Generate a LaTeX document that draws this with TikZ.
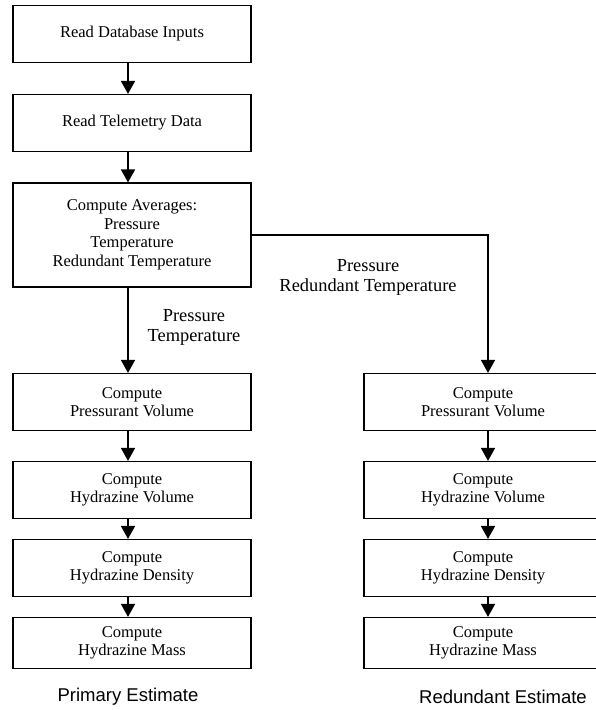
\documentclass[tikz,border=0pt]{standalone}
\usepackage{fontspec}
\setmainfont{Liberation Serif}
\newfontfamily\capfont{Liberation Sans}
\usetikzlibrary{arrows.meta}

\begin{document}
\begin{tikzpicture}[x=1pt, y=-1pt,
  box/.style={draw, line width=1.2pt, minimum width=238pt, align=center,
    font=\fontsize{16.5}{18.5}\selectfont},
  arr/.style={line width=1.7pt, -{Triangle[width=14pt, length=13pt]}},
  lbl/.style={align=center, font=\fontsize{18.4}{20}\selectfont},
  esttext/.style={font=\capfont\fontsize{18.5}{20}\selectfont}]

\useasboundingbox (0,0) rectangle (596,710);

\node[box, minimum height=57pt] (rdb) at (132,34) {Read Database Inputs};
\node[box, minimum height=57pt] (rtm) at (132,123) {Read Telemetry Data};
\node[box, minimum height=104pt] (avg) at (132,235)
  {Compute Averages:\\Pressure\\Temperature\\Redundant Temperature};

\foreach \col/\x in {p/132, r/483}
  \foreach \n/\y/\h/\txt in {1/402/57/Pressurant Volume, 2/490/57/Hydrazine Volume,
                             3/568/57/Hydrazine Density, 4/643/51/Hydrazine Mass}
    \node[box, minimum height=\h pt] (\col\n) at (\x,\y) {Compute\\\txt};

\draw[arr] ([xshift=-4pt]rdb.south) -- ([xshift=-4pt]rtm.north);
\draw[arr] ([xshift=-4pt]rtm.south) -- ([xshift=-4pt]avg.north);
\draw[arr] ([xshift=-4pt]avg.south) -- ([xshift=-4pt]p1.north);
\draw[arr] (avg.east) -| ([xshift=5pt]r1.north);

\foreach \col/\dx in {p/-4pt, r/5pt} {
  \draw[arr] ([xshift=\dx]\col1.south) -- ([xshift=\dx]\col2.north);
  \draw[arr] ([xshift=\dx]\col2.south) -- ([xshift=\dx]\col3.north);
  \draw[arr] ([xshift=\dx]\col3.south) -- ([xshift=\dx]\col4.north);
}

\node[lbl] (lblp) at (194,327) {Pressure\\Temperature};
\node[lbl] (lblr) at (368,277) {Pressure\\Redundant Temperature};

\node[esttext] (estp) at (128,697) {Primary Estimate};
\node[esttext] (estr) at (503,697) {Redundant Estimate};

\end{tikzpicture}
\end{document}
